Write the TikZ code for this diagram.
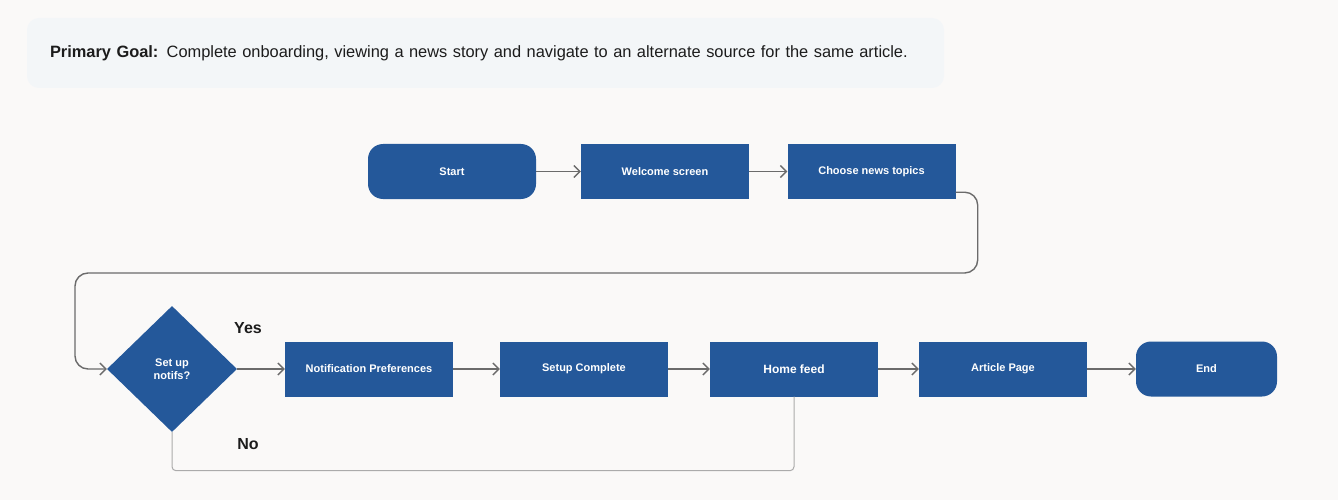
\documentclass[tikz,border=0pt]{standalone}
\usepackage{fontspec}
\setmainfont{Liberation Sans}
\usetikzlibrary{shapes.geometric,arrows.meta}
\definecolor{navy}{HTML}{24589A}
\definecolor{paper}{HTML}{FAF9F8}
\definecolor{goalbg}{HTML}{F3F6F8}
\definecolor{wire}{HTML}{6B6B6B}
\definecolor{nowire}{HTML}{ABABAB}
\definecolor{ink}{HTML}{1C1C1C}
\begin{document}
\begin{tikzpicture}[x=1pt, y=-1pt, node distance=210pt, >={Straight Barb[length=6pt,width=12pt]},
    every node/.style={font=\fontsize{11}{13}\selectfont\bfseries, text=white},
    stepbox/.style={fill=navy, minimum width=168pt, minimum height=55pt, inner sep=0pt},
    termbox/.style={stepbox, rounded corners=15pt},
    choice/.style={diamond, fill=navy, minimum width=130pt, minimum height=126pt, inner sep=0pt, align=center},
    flow/.style={->, draw=wire, line width=1.4pt},
    tag/.style={text=ink, font=\fontsize{16}{19}\selectfont\bfseries}]
    \fill[paper] (0,0) rectangle (1338,500);
    \useasboundingbox (0,0) rectangle (1338,500);
    \node[fill=goalbg, rounded corners=12pt, minimum width=917pt, minimum height=70pt, inner xsep=23pt, text width=871pt, align=left, text=ink, font=\fontsize{16.4}{19}\selectfont] (goal) at (485.5,53) {\textbf{Primary Goal:} Complete onboarding, viewing a news story and navigate to an alternate source for the same article.};
    \node[termbox] (start) at (452,171.5) {Start};
    \node[stepbox, right of=start, xshift=3pt] (welcome) {Welcome screen};
    \node[stepbox, right of=welcome, xshift=-3.5pt] (topics) {Choose news topics};
    \node[choice] (notifs) at (172,369) {Set up\\notifs?};
    \node[stepbox, right of=notifs, xshift=-13pt] (prefs) {Notification Preferences};
    \node[stepbox, right of=prefs, xshift=5pt] (setup) {Setup Complete};
    \node[stepbox, right of=setup, font=\fontsize{12}{14}\selectfont\bfseries] (home) {Home feed};
    \node[stepbox, right of=home, xshift=-1pt] (article) {Article Page};
    \node[termbox, right of=article, xshift=-6.5pt, minimum width=141pt] (finish) {End};
    \node[tag] (yes) at (248,328) {Yes};
    \node[tag] (no) at (248,444) {No};
    \coordinate (bend) at (75,273);
    \draw[flow] (start) -- (welcome);
    \draw[flow] (welcome) -- (topics);
    \draw[flow, rounded corners=13pt] ([yshift=7pt]topics.south east) -- ++(22,0) |- (bend) |- (notifs.west);
    \draw[flow] (notifs) -- (prefs);
    \draw[flow] (prefs) -- (setup);
    \draw[flow] (setup) -- (home);
    \draw[flow] (home) -- (article);
    \draw[flow] (article) -- (finish);
    \draw[nowire, line width=1pt, rounded corners=4pt] (notifs.south) |- ([yshift=-74pt]home.south) -- (home.south);
\end{tikzpicture}
\end{document}
